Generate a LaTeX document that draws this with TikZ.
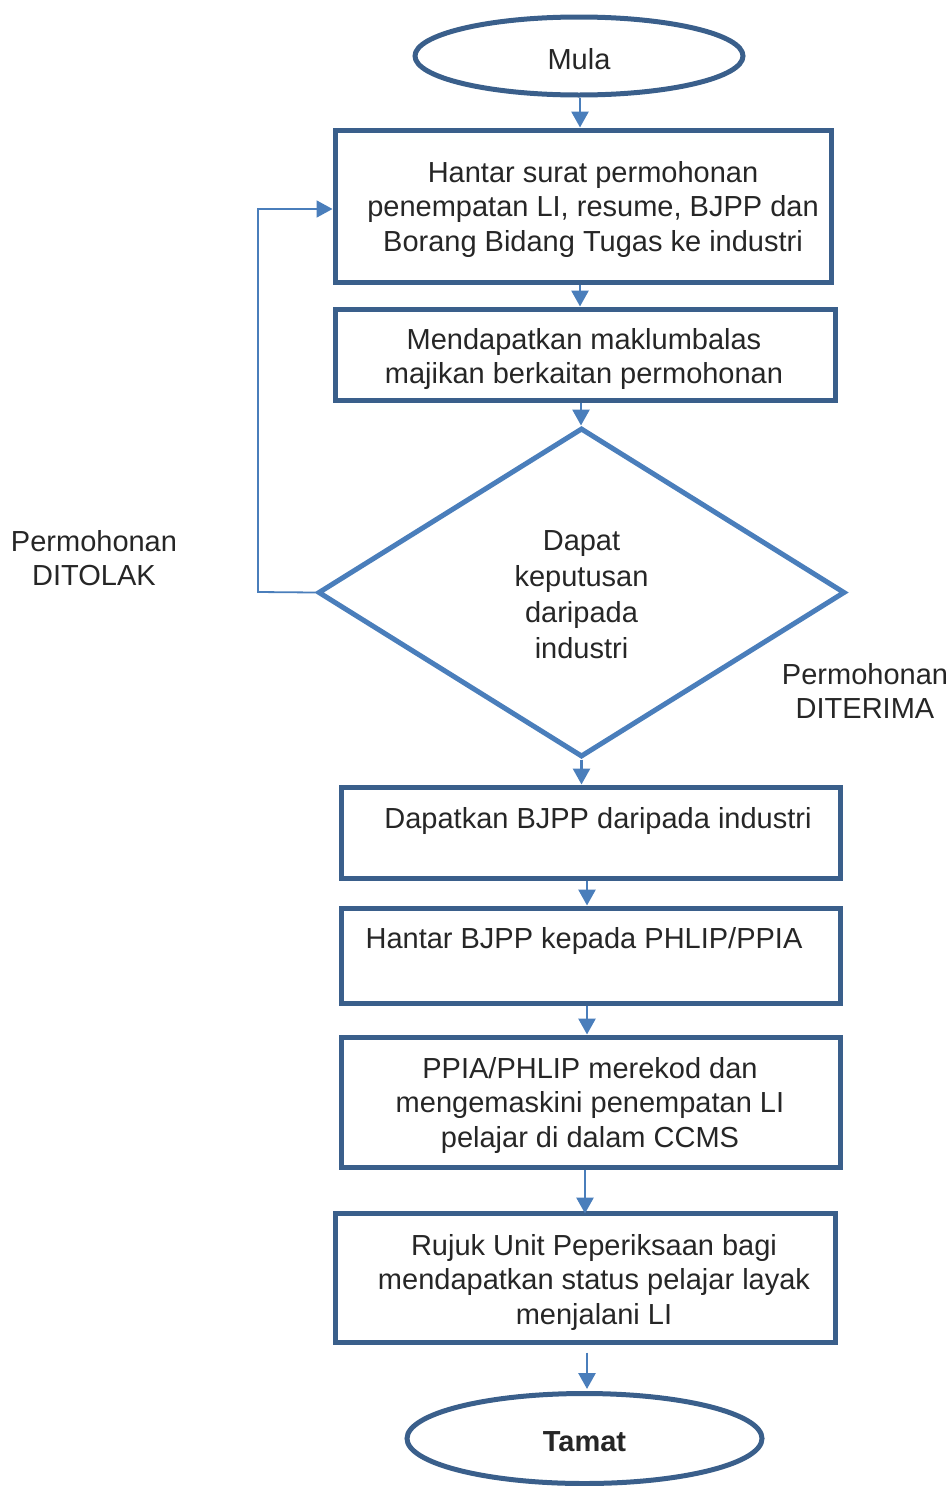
\documentclass[tikz,border=0pt]{standalone}
\usepackage{fontspec}
\setmainfont{Liberation Sans}
\usetikzlibrary{shapes.geometric,arrows.meta,calc}
\definecolor{boxblue}{HTML}{3A5F8B}
\definecolor{lineblue}{HTML}{4A7EBB}
\newcommand{\lowr}[2]{\raisebox{-#1}[\height][\depth]{#2}}
\tikzset{
  x=1pt,y=-1pt,
  txt/.style={font=\fontsize{29}{34.5}\selectfont, align=center, inner sep=0, text=black!85},
  procbox/.style={draw=boxblue, line width=5pt, rectangle, inner sep=0},
  term/.style={draw=boxblue, line width=5pt, ellipse, inner sep=0, font=\fontsize{29}{34}\selectfont, text=black!85},
  decis/.style={draw=lineblue, line width=5pt, diamond, inner sep=0, font=\fontsize{29}{36}\selectfont, align=center, text=black!85},
  arr/.style={draw=lineblue, line width=2.8pt, -{Triangle[width=17pt,length=16pt]}},
  loopline/.style={draw=lineblue, line width=1.8pt, -{Triangle[width=17pt,length=16pt]}},
}
\begin{document}
\begin{tikzpicture}
\useasboundingbox (0,0) rectangle (950,1486);
\node[term, minimum width=328, minimum height=78] (mula) at (579,56) {\lowr{3pt}{Mula}};
\node[procbox, minimum width=496, minimum height=152] (b1) at (583,206) {};
\node[txt] (t1) at (593,209) {Hantar surat permohonan\\penempatan LI, resume, BJPP dan\\Borang Bidang Tugas ke industri};
\node[procbox, minimum width=500, minimum height=91] (b2) at (585,354.5) {};
\node[txt] (t2) at (584,359) {Mendapatkan maklumbalas\\majikan berkaitan permohonan};
\node[decis, minimum width=527, minimum height=329] (dia) at (581.5,592.5) {\lowr{5pt}{\begin{tabular}{@{}c@{}}Dapat\\keputusan\\daripada\\industri\end{tabular}}};
\node[procbox, minimum width=499, minimum height=91] (b3) at (590.5,832.5) {};
\node[txt] (t3) at (598,821) {Dapatkan BJPP daripada industri};
\node[procbox, minimum width=499, minimum height=95] (b4) at (590.5,955.5) {};
\node[txt] (t4) at (584,941) {Hantar BJPP kepada PHLIP/PPIA};
\node[procbox, minimum width=499, minimum height=130] (b5) at (590.5,1102) {};
\node[txt] (t5) at (590,1105) {PPIA/PHLIP merekod dan\\mengemaskini penempatan LI\\pelajar di dalam CCMS};
\node[procbox, minimum width=500, minimum height=129] (b6) at (585,1277.5) {};
\node[txt] (t6) at (594,1282) {Rujuk Unit Peperiksaan bagi\\mendapatkan status pelajar layak\\menjalani LI};
\node[term, minimum width=355, minimum height=90, font=\fontsize{29}{34}\selectfont\bfseries] (tamat) at (584.5,1438.5) {\lowr{3pt}{Tamat}};
\node[txt] (ditolak) at (94,558) {Permohonan\\DITOLAK};
\node[txt] (diterima) at (865,691) {Permohonan\\DITERIMA};
\coordinate (lp) at (258,592);
% connectors
\draw[arr] ([xshift=1]mula.south) -- ([xshift=1]mula.south |- b1.north);
\draw[arr] ([xshift=-3]b1.south) -- ([xshift=-3]b1.south |- b2.north);
\draw[arr] ([xshift=-4]b2.south) -- ([xshift=-4]b2.south |- dia.north);
\draw[arr] (dia.south) -- (dia.south |- b3.north);
\draw[arr] ([xshift=-3.5]b3.south) -- ([xshift=-3.5]b3.south |- b4.north);
\draw[arr] ([xshift=-3.5]b4.south) -- ([xshift=-3.5]b4.south |- b5.north);
\draw[arr] ([xshift=-5.5]b5.south) -- ([xshift=-5.5,yshift=-3]b5.south |- b6.north);
\draw[arr] ([xshift=2,yshift=-8]b6.south) -- ([xshift=2,yshift=2]b6.south |- tamat.north);
\draw[loopline] (dia.west) -- (lp) |- ([yshift=-3]b1.west);
\end{tikzpicture}
\end{document}
